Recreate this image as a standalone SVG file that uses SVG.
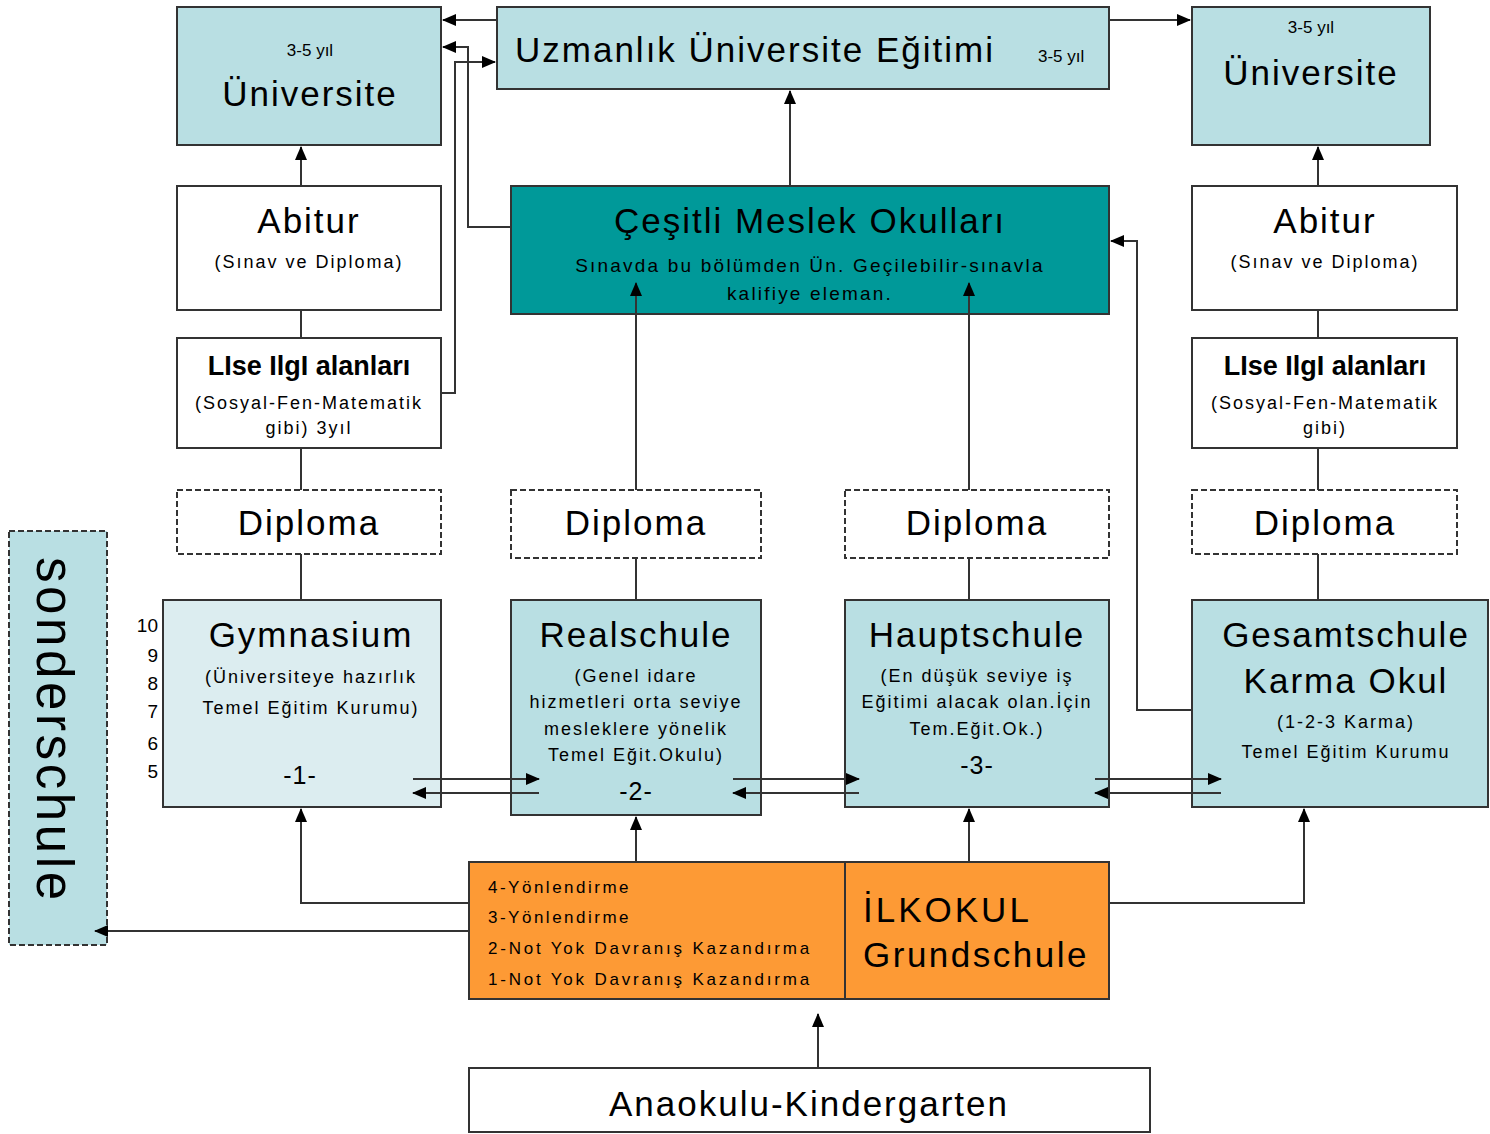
<svg xmlns="http://www.w3.org/2000/svg" width="1490" height="1134" viewBox="0 0 1490 1134">
<defs>
<marker id="ah" markerWidth="14" markerHeight="12" refX="13" refY="6" orient="auto" markerUnits="userSpaceOnUse">
<path d="M0,0 L14,6 L0,12 Z" fill="#000"/>
</marker>
<style>
.box{stroke:#333;stroke-width:2}
.lb{fill:#b9dfe3}
.xl{fill:#dcedf0}
.wh{fill:#fff}
.tl{fill:#009999}
.or{fill:#fd9a35}
.dash{stroke-dasharray:6,3}
.c{fill:none;stroke:#333;stroke-width:2}
text{font-family:"Liberation Sans",Arial,sans-serif;fill:#000}
.big{font-size:35px;letter-spacing:2px}
.mid{font-size:18px;letter-spacing:2px}
.sm{font-size:17px;letter-spacing:0px}
.bold{font-size:27px;font-weight:bold}
.m{text-anchor:middle}
</style>
</defs>
<rect width="1490" height="1134" fill="#fff"/>

<g id="universite-left">
<rect class="box lb" x="177" y="7" width="264" height="138"/>
<text class="sm m" x="310" y="56">3-5 yıl</text>
<text class="big m" x="310" y="106">Üniversite</text>
</g>

<g id="uzmanlik">
<rect class="box lb" x="497" y="7" width="612" height="82"/>
<text class="big" x="515" y="62">Uzmanlık Üniversite Eğitimi</text>
<text class="sm" x="1038" y="62">3-5 yıl</text>
</g>

<g id="universite-right">
<rect class="box lb" x="1192" y="7" width="238" height="138"/>
<text class="sm m" x="1311" y="33">3-5 yıl</text>
<text class="big m" x="1311" y="85">Üniversite</text>
</g>

<g id="abitur-left">
<rect class="box wh" x="177" y="186" width="264" height="124"/>
<text class="big m" x="309" y="233">Abitur</text>
<text class="mid m" x="309" y="268">(Sınav ve Diploma)</text>
</g>

<g id="cesitli">
<rect class="box tl" x="511" y="186" width="598" height="128"/>
<text class="big m" x="810" y="233">Çeşitli Meslek Okulları</text>
<text class="m" x="810" y="272" style="font-size:19px;letter-spacing:2.2px">Sınavda bu bölümden Ün. Geçilebilir-sınavla</text>
<text class="m" x="810" y="300" style="font-size:19px;letter-spacing:2.2px">kalifiye eleman.</text>
</g>

<g id="abitur-right">
<rect class="box wh" x="1192" y="186" width="265" height="124"/>
<text class="big m" x="1325" y="233">Abitur</text>
<text class="mid m" x="1325" y="268">(Sınav ve Diploma)</text>
</g>

<g id="lise-left">
<rect class="box wh" x="177" y="338" width="264" height="110"/>
<text class="bold m" x="309" y="375">LIse IlgI alanları</text>
<text class="mid m" x="309" y="409">(Sosyal-Fen-Matematik</text>
<text class="mid m" x="309" y="434">gibi) 3yıl</text>
</g>

<g id="lise-right">
<rect class="box wh" x="1192" y="338" width="265" height="110"/>
<text class="bold m" x="1325" y="375">LIse IlgI alanları</text>
<text class="mid m" x="1325" y="409">(Sosyal-Fen-Matematik</text>
<text class="mid m" x="1325" y="434">gibi)</text>
</g>

<g id="diploma-1">
<rect class="box wh dash" x="177" y="490" width="264" height="64"/>
<text class="big m" x="309" y="535">Diploma</text>
</g>
<g id="diploma-2">
<rect class="box wh dash" x="511" y="490" width="250" height="68"/>
<text class="big m" x="636" y="535">Diploma</text>
</g>
<g id="diploma-3">
<rect class="box wh dash" x="845" y="490" width="264" height="68"/>
<text class="big m" x="977" y="535">Diploma</text>
</g>
<g id="diploma-4">
<rect class="box wh dash" x="1192" y="490" width="265" height="64"/>
<text class="big m" x="1325" y="535">Diploma</text>
</g>

<g id="grades">
<text x="158" y="632" style="font-size:19px;text-anchor:end">10</text>
<text x="158" y="662" style="font-size:19px;text-anchor:end">9</text>
<text x="158" y="690" style="font-size:19px;text-anchor:end">8</text>
<text x="158" y="718" style="font-size:19px;text-anchor:end">7</text>
<text x="158" y="750" style="font-size:19px;text-anchor:end">6</text>
<text x="158" y="778" style="font-size:19px;text-anchor:end">5</text>
</g>

<g id="gymnasium">
<rect class="box xl" x="163" y="600" width="278" height="207"/>
<text class="big m" x="311" y="647">Gymnasium</text>
<text class="mid m" x="311" y="683">(Üniversiteye hazırlık</text>
<text class="mid m" x="311" y="714">Temel Eğitim Kurumu)</text>
<text class="m" x="300" y="784" style="font-size:25px;letter-spacing:1px">-1-</text>
</g>

<g id="realschule">
<rect class="box lb" x="511" y="600" width="250" height="215"/>
<text class="big m" x="636" y="647">Realschule</text>
<text class="mid m" x="636" y="682">(Genel idare</text>
<text class="mid m" x="636" y="708">hizmetleri orta seviye</text>
<text class="mid m" x="636" y="735">mesleklere yönelik</text>
<text class="mid m" x="636" y="761">Temel Eğit.Okulu)</text>
<text class="m" x="636" y="800" style="font-size:25px;letter-spacing:1px">-2-</text>
</g>

<g id="hauptschule">
<rect class="box lb" x="845" y="600" width="264" height="207"/>
<text class="big m" x="977" y="647">Hauptschule</text>
<text class="mid m" x="977" y="682">(En düşük seviye iş</text>
<text class="mid m" x="977" y="708">Eğitimi alacak olan.İçin</text>
<text class="mid m" x="977" y="735">Tem.Eğit.Ok.)</text>
<text class="m" x="977" y="774" style="font-size:25px;letter-spacing:1px">-3-</text>
</g>

<g id="gesamtschule">
<rect class="box lb" x="1192" y="600" width="296" height="207"/>
<text class="big m" x="1346" y="647">Gesamtschule</text>
<text class="big m" x="1346" y="693">Karma Okul</text>
<text class="mid m" x="1346" y="728">(1-2-3 Karma)</text>
<text class="mid m" x="1346" y="758">Temel Eğitim Kurumu</text>
</g>

<g id="sonderschule">
<rect class="box lb dash" x="9" y="531" width="98" height="414"/>
<text transform="translate(37,557) rotate(90)" style="font-size:51px" textLength="343" lengthAdjust="spacing">sonderschule</text>
</g>

<g id="ilkokul">
<rect class="box or" x="469" y="862" width="640" height="137"/>
<line class="c" x1="845" y1="862" x2="845" y2="999"/>
<text x="488" y="893" style="font-size:17px;letter-spacing:2.5px">4-Yönlendirme</text>
<text x="488" y="923" style="font-size:17px;letter-spacing:2.5px">3-Yönlendirme</text>
<text x="488" y="954" style="font-size:17px;letter-spacing:2.8px">2-Not Yok  Davranış Kazandırma</text>
<text x="488" y="985" style="font-size:17px;letter-spacing:2.8px">1-Not Yok  Davranış Kazandırma</text>
<text x="863" y="922" style="font-size:35px;letter-spacing:3px">İLKOKUL</text>
<text x="863" y="967" style="font-size:35px;letter-spacing:2.5px">Grundschule</text>
</g>

<g id="anaokulu">
<rect class="box wh" x="469" y="1068" width="681" height="64"/>
<text class="big m" x="809" y="1116">Anaokulu-Kindergarten</text>
</g>

<g id="connectors">
<line class="c" x1="497" y1="20" x2="443" y2="20" marker-end="url(#ah)"/>
<polyline class="c" points="441,393 455,393 455,62 495,62" marker-end="url(#ah)"/>
<polyline class="c" points="511,227 468,227 468,47 443,47" marker-end="url(#ah)"/>
<line class="c" x1="1109" y1="20" x2="1190" y2="20" marker-end="url(#ah)"/>
<line class="c" x1="790" y1="186" x2="790" y2="91" marker-end="url(#ah)"/>
<line class="c" x1="301" y1="186" x2="301" y2="147" marker-end="url(#ah)"/>
<line class="c" x1="1318" y1="186" x2="1318" y2="147" marker-end="url(#ah)"/>
<line class="c" x1="301" y1="310" x2="301" y2="338"/>
<line class="c" x1="301" y1="448" x2="301" y2="490"/>
<line class="c" x1="301" y1="554" x2="301" y2="600"/>
<line class="c" x1="1318" y1="310" x2="1318" y2="338"/>
<line class="c" x1="1318" y1="448" x2="1318" y2="490"/>
<line class="c" x1="1318" y1="554" x2="1318" y2="600"/>
<line class="c" x1="636" y1="558" x2="636" y2="600"/>
<line class="c" x1="636" y1="490" x2="636" y2="283" marker-end="url(#ah)"/>
<line class="c" x1="969" y1="558" x2="969" y2="600"/>
<line class="c" x1="969" y1="490" x2="969" y2="283" marker-end="url(#ah)"/>
<polyline class="c" points="1192,710 1137,710 1137,241 1111,241" marker-end="url(#ah)"/>
<line class="c" x1="413" y1="779" x2="539" y2="779" marker-end="url(#ah)"/>
<line class="c" x1="539" y1="793" x2="413" y2="793" marker-end="url(#ah)"/>
<line class="c" x1="733" y1="779" x2="859" y2="779" marker-end="url(#ah)"/>
<line class="c" x1="859" y1="793" x2="733" y2="793" marker-end="url(#ah)"/>
<line class="c" x1="1095" y1="779" x2="1221" y2="779" marker-end="url(#ah)"/>
<line class="c" x1="1221" y1="793" x2="1095" y2="793" marker-end="url(#ah)"/>
<polyline class="c" points="469,903 301,903 301,809" marker-end="url(#ah)"/>
<line class="c" x1="469" y1="931" x2="95" y2="931" marker-end="url(#ah)"/>
<line class="c" x1="636" y1="862" x2="636" y2="817" marker-end="url(#ah)"/>
<line class="c" x1="969" y1="862" x2="969" y2="809" marker-end="url(#ah)"/>
<polyline class="c" points="1109,903 1304,903 1304,809" marker-end="url(#ah)"/>
<line class="c" x1="818" y1="1068" x2="818" y2="1014" marker-end="url(#ah)"/>
</g>
</svg>
